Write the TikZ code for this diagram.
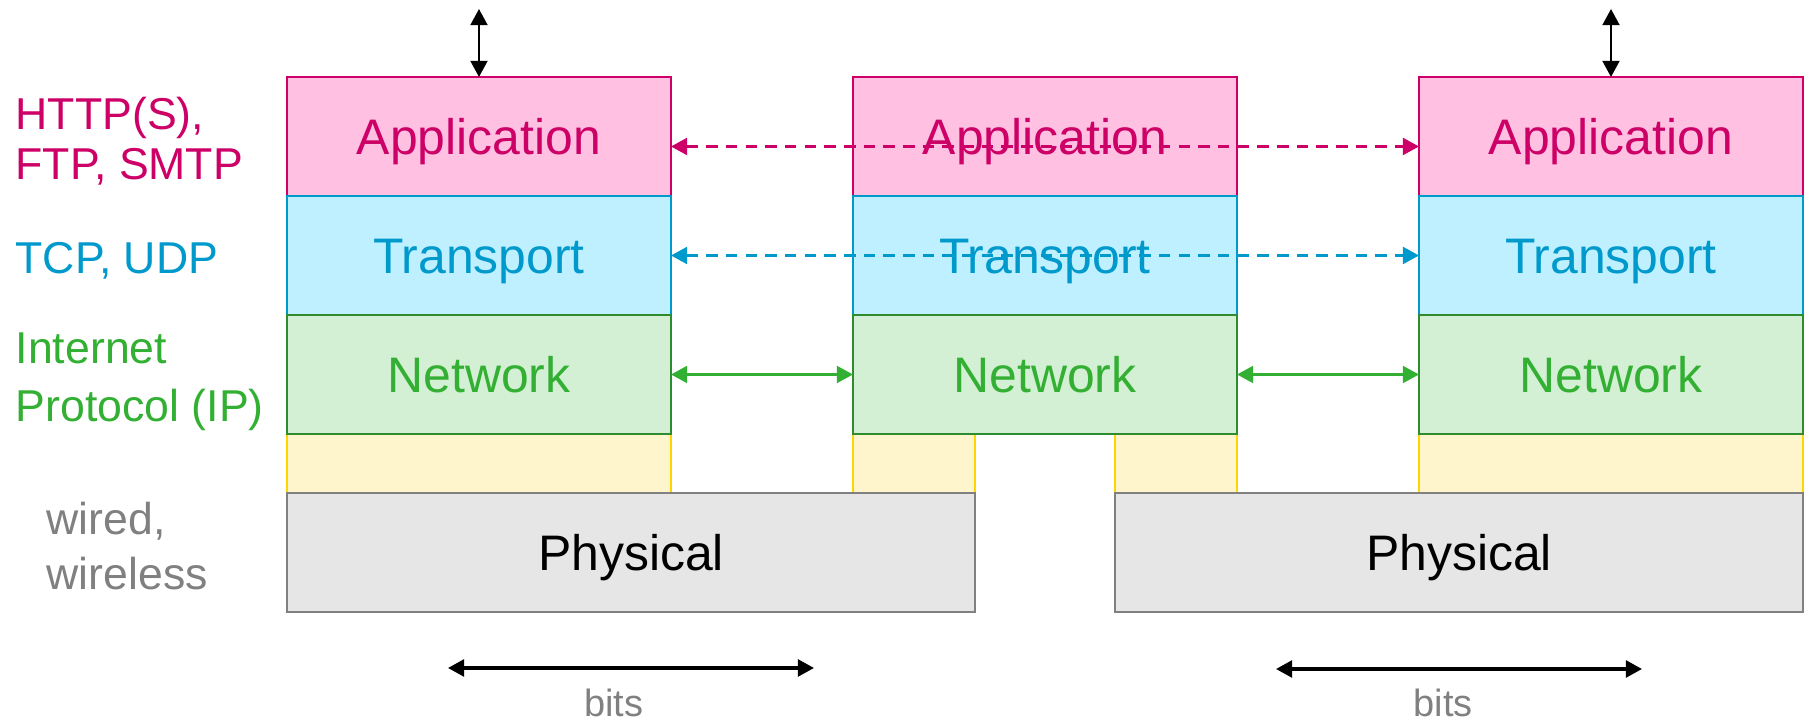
\documentclass[tikz,border=0pt]{standalone}
\usepackage{fontspec}
\setmainfont{Liberation Sans}
\usetikzlibrary{arrows.meta,positioning}

\definecolor{appred}{RGB}{204,0,102}
\definecolor{appfill}{RGB}{255,192,226}
\definecolor{trablue}{RGB}{0,153,204}
\definecolor{trafill}{RGB}{191,240,255}
\definecolor{netdark}{RGB}{46,139,46}
\definecolor{netgreen}{RGB}{51,176,51}
\definecolor{netfill}{RGB}{212,240,212}
\definecolor{linkline}{RGB}{255,213,0}
\definecolor{linkfill}{RGB}{255,245,204}
\definecolor{phygray}{RGB}{128,128,128}
\definecolor{phyfill}{RGB}{230,230,230}

\begin{document}
\begin{tikzpicture}[
    layer/.style={draw, line width=0.7pt, minimum width=3.84cm, minimum height=1.19cm, inner sep=0pt, outer sep=0pt, align=center, text height=10.2pt, text depth=0pt, font=\fontsize{14.2}{17}\selectfont},
    app/.style={layer, draw=appred, fill=appfill, text=appred},
    tra/.style={layer, draw=trablue, fill=trafill, text=trablue},
    net/.style={layer, draw=netdark, fill=netfill, text=netgreen},
    link/.style={draw=linkline, fill=linkfill, line width=0.6pt, minimum height=0.59cm, inner sep=0pt, outer sep=0pt},
    phy/.style={layer, draw=phygray, fill=phyfill, text=black, minimum width=6.88cm},
    side/.style={anchor=west, align=left, inner sep=0pt, font=\fontsize{12.7}{15.5}\selectfont},
    arr/.style={{Triangle[length=4.6pt,width=4.8pt]}-{Triangle[length=4.6pt,width=4.8pt]}, line width=0.7pt},
    darr/.style={arr, line width=0.8pt, dash pattern=on 3.3pt off 2.3pt},
    bits/.style={font=\fontsize{10.8}{13}\selectfont, text=phygray}
]
\useasboundingbox (0,0) rectangle (18.09,-7.2);

% link boxes (behind)
\node[link, minimum width=3.84cm] (linkL) at (4.79,-4.635) {};
\node[link, minimum width=1.22cm] (linkMa) at (9.14,-4.635) {};
\node[link, minimum width=1.22cm] (linkMb) at (11.76,-4.635) {};
\node[link, minimum width=3.84cm] (linkR) at (16.11,-4.635) {};

% stacks
\node[app] (appL) at (4.79,-1.365) {Application};
\node[tra] (traL) at (4.79,-2.555) {Transport};
\node[net] (netL) at (4.79,-3.745) {Network};

\node[app] (appM) at (10.45,-1.365) {Application};
\node[tra] (traM) at (10.45,-2.555) {Transport};
\node[net] (netM) at (10.45,-3.745) {Network};

\node[app] (appR) at (16.11,-1.365) {Application};
\node[tra] (traR) at (16.11,-2.555) {Transport};
\node[net] (netR) at (16.11,-3.745) {Network};

\node[phy] (phyA) at (6.31,-5.525) {Physical};
\node[phy] (phyB) at (14.59,-5.525) {Physical};

% side labels
\node[side, text=appred, font=\fontsize{12.7}{14.3}\selectfont] (lblApp) at (0.15,-1.41) {HTTP(S),\\FTP, SMTP};
\node[side, text=trablue] (lblTra) at (0.15,-2.61) {TCP, UDP};
\node[side, text=netgreen, font=\fontsize{12.7}{16.5}\selectfont] (lblNet) at (0.15,-3.82) {Internet\\Protocol (IP)};
\node[side, text=phygray] (lblPhy) at (0.46,-5.46) {wired,\\wireless};

% connectors
\coordinate (topL) at (4.79,-0.09);
\coordinate (topR) at (16.11,-0.09);
\draw[arr] (topL) -- (appL.north);
\draw[arr] (topR) -- (appR.north);

\draw[darr, appred] ([yshift=-0.1cm]appL.east) -- ([yshift=-0.1cm]appR.west);
\draw[darr, trablue] (traL.east) -- (traR.west);
\draw[arr, netgreen] (netL.east) -- (netM.west);
\draw[arr, netgreen] (netM.east) -- (netR.west);

\coordinate (bitsLa) at (4.48,-6.68);
\coordinate (bitsLb) at (8.14,-6.68);
\coordinate (bitsRa) at (12.76,-6.69);
\coordinate (bitsRb) at (16.42,-6.69);
\draw[arr, line width=0.9pt] (bitsLa) -- (bitsLb);
\draw[arr, line width=0.9pt] (bitsRa) -- (bitsRb);
\node[bits] (bitsL) at (6.14,-7.03) {bits};
\node[bits] (bitsR) at (14.43,-7.03) {bits};
\end{tikzpicture}
\end{document}
